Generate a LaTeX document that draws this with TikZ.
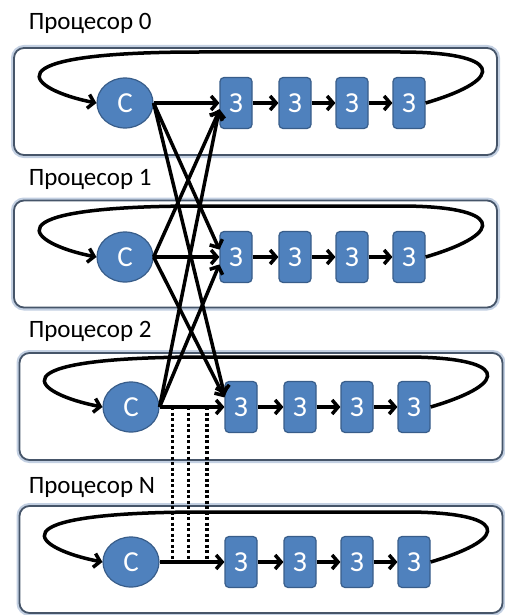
\documentclass[tikz,border=0pt]{standalone}
\usepackage{fontspec}
\setmainfont{Carlito}
\usetikzlibrary{arrows.meta}
\usetikzlibrary{shapes.geometric}

\definecolor{taskblue}{RGB}{79,129,189}
\definecolor{taskedge}{RGB}{56,93,138}
\definecolor{frameedge}{RGB}{70,85,105}
\definecolor{frameglow}{RGB}{195,208,226}

\tikzset{
  cpu/.style={draw=frameedge,line width=1.8pt,rounded corners=10pt,fill=white,
    preaction={draw=frameglow,line width=6pt},
    minimum width=483pt,minimum height=107pt,inner sep=0pt},
  cpuname/.style={anchor=base west,inner sep=0pt,font=\fontsize{25}{28}\selectfont},
  ctrl/.style={ellipse,draw=taskedge,fill=taskblue,line width=1.2pt,
    minimum width=56pt,minimum height=50pt,inner sep=0pt,
    text=white,font=\fontsize{29}{32}\selectfont},
  task/.style={rectangle,rounded corners=4pt,draw=taskedge,fill=taskblue,line width=1.2pt,
    minimum width=32pt,minimum height=51pt,inner sep=0pt,
    text=white,font=\fontsize{29}{32}\selectfont},
  relay/.style={line width=3.2pt,dash pattern=on 3pt off 2.5pt}
}

\begin{document}
\begin{tikzpicture}[x=1pt,y=-1pt,line width=3.5pt,
                >={Straight Barb[length=6pt,width=14pt]}
                ]
            \useasboundingbox (0,0) rectangle (505,615);

            % processor frames
            \node[cpu] (P0) at (255.5,101.5) {};
            \node[cpu] (P1) at (255.5,254) {};
            \node[cpu] (P2) at (261,406.5) {};
            \node[cpu] (PN) at (261,559.5) {};

            \node[cpuname] (L0) at (27,30) {Процесор 0};
            \node[cpuname] (L1) at (27,185) {Процесор 1};
            \node[cpuname] (L2) at (27,337) {Процесор 2};
            \node[cpuname] (LN) at (27,493) {Процесор N};

            % processor 0
            \node[ctrl] (C0) at (125,103) {С};
            \node[task] (Z01) at (236,103) {З};
            \node[task] (Z02) at (295,103) {З};
            \node[task] (Z03) at (352,103) {З};
            \node[task] (Z04) at (409,103) {З};

            % processor 1
            \node[ctrl] (C1) at (125,257) {С};
            \node[task] (Z11) at (236,257) {З};
            \node[task] (Z12) at (295,257) {З};
            \node[task] (Z13) at (352,257) {З};
            \node[task] (Z14) at (409,257) {З};

            % processor 2
            \node[ctrl] (C2) at (131,407) {С};
            \node[task] (Z21) at (241,407) {З};
            \node[task] (Z22) at (300,407) {З};
            \node[task] (Z23) at (357,407) {З};
            \node[task] (Z24) at (414,407) {З};

            % processor N
            \node[ctrl] (CN) at (131,562) {С};
            \node[task] (ZN1) at (241,562) {З};
            \node[task] (ZN2) at (300,562) {З};
            \node[task] (ZN3) at (357,562) {З};
            \node[task] (ZN4) at (414,562) {З};

            % task queues
            \draw[->] (C0) to (Z01);
            \draw[->] (Z01) to (Z02);
            \draw[->] (Z02) to (Z03);
            \draw[->] (Z03) to (Z04);
            \draw[->] (Z04.east) .. controls (510,78) and (500,52) .. (400,52) -- (200,52)
                .. controls (-20,52) and (30,90) .. (C0.west);

            \draw[->] (C1) to (Z11);
            \draw[->] (Z11) to (Z12);
            \draw[->] (Z12) to (Z13);
            \draw[->] (Z13) to (Z14);
            \draw[->] (Z14.east) .. controls (510,232) and (500,206) .. (400,206) -- (200,206)
                .. controls (-20,206) and (30,244) .. (C1.west);

            \draw[->] (C2) to coordinate[pos=.2] (D1) coordinate[pos=.45] (D2)
                coordinate[pos=.73] (D3) (Z21);
            \draw[->] (Z21) to (Z22);
            \draw[->] (Z22) to (Z23);
            \draw[->] (Z23) to (Z24);
            \draw[->] (Z24.east) .. controls (515,382) and (505,357) .. (405,357) -- (205,357)
                .. controls (-15,357) and (35,394) .. (C2.west);

            \draw[->] (CN) to coordinate[pos=.2] (E1) coordinate[pos=.45] (E2)
                coordinate[pos=.73] (E3) (ZN1);
            \draw[->] (ZN1) to (ZN2);
            \draw[->] (ZN2) to (ZN3);
            \draw[->] (ZN3) to (ZN4);
            \draw[->] (ZN4.east) .. controls (515,537) and (505,512) .. (405,512) -- (205,512)
                .. controls (-15,512) and (35,549) .. (CN.west);

            % exchange between processors
            \draw[->] (C0.east) to (Z11.156);
            \draw[->] (C0.east) to (Z21.143);
            \draw[->] (C1.east) to (Z01.204);
            \draw[->] (C1.east) to (Z21.150);
            \draw[->] (C2.east) to (Z01.200);
            \draw[->] (C2.east) to (Z11.204);

            \draw[relay] (D1) to (E1);
            \draw[relay] (D2) to (E2);
            \draw[relay] (D3) to (E3);

            \end{tikzpicture}
\end{document}
